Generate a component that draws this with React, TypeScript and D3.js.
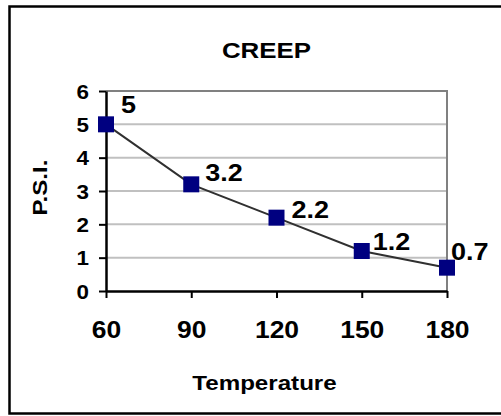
import React, { useEffect, useRef } from 'react';
import { select, scaleLinear, axisBottom, axisLeft, line } from 'd3';

// CREEP chart: P.S.I. against temperature
const temperatures = [60, 90, 120, 150, 180];
const psiValues = [5, 3.2, 2.2, 1.2, 0.7];
const psiTicks = [0, 1, 2, 3, 4, 5, 6];
const valueLabels = ['5', '3.2', '2.2', '1.2', '0.7'];

const width = 501;
const height = 416;
const plot = { left: 106, right: 447, top: 91, bottom: 291 };
const FONT = 'Arial, "Liberation Sans", Helvetica, sans-serif';
const STRETCH = 'scale(1.15,1)'; // the source font runs a bit wide
// where each value label sits relative to its marker
const labelNudge = [[15, -11], [14, -3], [15, 0], [11, -1], [4, -8]];

export default function App() {
  const svgRef = useRef<SVGSVGElement>(null);

  useEffect(() => {
    const svg = select(svgRef.current);
    svg.selectAll('*').remove();

    const x = scaleLinear().domain([60, 180]).range([plot.left, plot.right]);
    const y = scaleLinear().domain([0, 6]).range([plot.bottom, plot.top]);

    // outer frame
    svg.append('rect')
      .attr('x', 9.5).attr('y', 6.5)
      .attr('width', 520).attr('height', 407)
      .attr('fill', 'white')
      .attr('stroke', 'black')
      .attr('stroke-width', 2.5);

    // gridlines
    svg.append('g')
      .selectAll('line')
      .data(psiTicks.filter(t => t > 0 && t < 6))
      .enter()
      .append('line')
      .attr('x1', plot.left).attr('x2', plot.right)
      .attr('y1', d => y(d)).attr('y2', d => y(d))
      .attr('stroke', '#c0c0c0')
      .attr('stroke-width', 2);

    // plot frame top + right
    svg.append('path')
      .attr('d', `M${plot.left},${y(6)}H${x(180)}V${plot.bottom}`)
      .attr('fill', 'none')
      .attr('stroke', '#808080')
      .attr('stroke-width', 2);

    // axes
    const xAxis = axisBottom(x).tickValues(temperatures).tickSizeInner(7).tickSizeOuter(0);
    const xg = svg.append('g')
      .attr('transform', `translate(0, ${plot.bottom})`)
      .call(xAxis);
    xg.select('.domain').attr('stroke', 'black').attr('stroke-width', 2.5);
    xg.selectAll('.tick line').attr('stroke', 'black').attr('stroke-width', 2);
    xg.selectAll('.tick text')
      .attr('y', 47).attr('dy', 0)
      .attr('transform', STRETCH)
      .attr('fill', 'black')
      .attr('font-family', FONT)
      .attr('font-weight', 'bold')
      .attr('font-size', 23);

    const yAxis = axisLeft(y)
      .tickValues(psiTicks)
      .tickFormat(d => String(d))
      .tickSizeInner(7)
      .tickSizeOuter(0);
    const yg = svg.append('g')
      .attr('transform', `translate(${plot.left}, 0)`)
      .call(yAxis);
    yg.select('.domain').attr('stroke', 'black').attr('stroke-width', 2.5);
    yg.selectAll('.tick line').attr('stroke', 'black').attr('stroke-width', 2);
    yg.selectAll('.tick text')
      .attr('x', -17 / 1.15).attr('dy', '0.36em')
      .attr('transform', STRETCH)
      .attr('fill', 'black')
      .attr('font-family', FONT)
      .attr('font-weight', 'bold')
      .attr('font-size', 19.5);

    const points = temperatures.map((t, i) => ({ t, v: psiValues[i], label: valueLabels[i], i }));

    // series line
    svg.append('path')
      .datum(points)
      .attr('fill', 'none')
      .attr('stroke', '#303030')
      .attr('stroke-width', 2)
      .attr('d', line<any>().x(d => x(d.t)).y(d => y(d.v)));

    // markers
    svg.append('g')
      .selectAll('rect')
      .data(points)
      .enter()
      .append('rect')
      .attr('x', d => x(d.t) - 8)
      .attr('y', d => y(d.v) - 8)
      .attr('width', 16).attr('height', 16)
      .attr('fill', '#000080');

    // value labels
    svg.append('g')
      .selectAll('text')
      .data(points)
      .enter()
      .append('text')
      .attr('transform', d => `translate(${x(d.t) + labelNudge[d.i][0]}, ${y(d.v) + labelNudge[d.i][1]}) ${STRETCH}`)
      .attr('font-family', FONT)
      .attr('font-weight', 'bold')
      .attr('font-size', 23.5)
      .text(d => d.label);

    // titles
    svg.append('text')
      .attr('transform', `translate(266.5, 58) ${STRETCH}`)
      .attr('text-anchor', 'middle')
      .attr('font-family', FONT)
      .attr('font-weight', 'bold')
      .attr('font-size', 22.5)
      .text('CREEP');

    svg.append('text')
      .attr('transform', `translate(264.5, 390) ${STRETCH}`)
      .attr('text-anchor', 'middle')
      .attr('font-family', FONT)
      .attr('font-weight', 'bold')
      .attr('font-size', 21)
      .text('Temperature');

    svg.append('text')
      .attr('transform', `translate(47, 187.5) rotate(-90) ${STRETCH}`)
      .attr('text-anchor', 'middle')
      .attr('font-family', FONT)
      .attr('font-weight', 'bold')
      .attr('font-size', 21)
      .text('P.S.I.');
  }, []);

  return (
    <svg
      ref={svgRef}
      width={width}
      height={height}
      style={{ position: 'absolute', left: 0, top: 0, background: 'white' }}
    />
  );
}
